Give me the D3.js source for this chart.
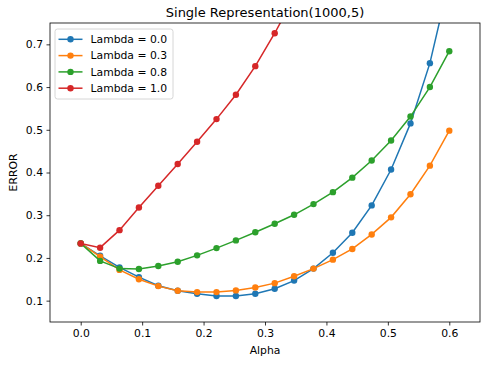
<!DOCTYPE html>
<html>
<head>
<meta charset="utf-8">
<script src="https://cdn.jsdelivr.net/npm/d3@7"></script>
<style>
  body { margin: 0; background: #fff; }
  svg { display: block; font-family: "DejaVu Sans", sans-serif; }
</style>
</head>
<body>
<div id="chart"></div>
<script>
// data
const alphas = d3.range(20).map(i => i * 0.6 / 19);
const lambdas = ["Lambda = 0.0", "Lambda = 0.3", "Lambda = 0.8", "Lambda = 1.0"];
const err00 = [0.234, 0.205, 0.178, 0.155, 0.135, 0.123, 0.116, 0.111, 0.111, 0.116,
               0.128, 0.147, 0.175, 0.212, 0.259, 0.323, 0.407, 0.515, 0.656, 0.85];
const err03 = [0.234, 0.203, 0.172, 0.150, 0.134, 0.123, 0.120, 0.120, 0.124, 0.131,
               0.141, 0.157, 0.175, 0.196, 0.221, 0.255, 0.295, 0.349, 0.416, 0.498];
const err08 = [0.234, 0.193, 0.175, 0.174, 0.181, 0.191, 0.206, 0.223, 0.241, 0.260,
               0.280, 0.301, 0.326, 0.354, 0.388, 0.428, 0.475, 0.531, 0.600, 0.684];
const err10 = [0.234, 0.224, 0.265, 0.318, 0.369, 0.420, 0.472, 0.525, 0.582, 0.649,
               0.726, 0.81];
const xTicks = [0.0, 0.1, 0.2, 0.3, 0.4, 0.5, 0.6];
const yTicks = [0.1, 0.2, 0.3, 0.4, 0.5, 0.6, 0.7];
const colors = ["#1f77b4", "#ff7f0e", "#2ca02c", "#d62728"];

const series = [err00, err03, err08, err10].map((vals, i) => ({
    name: lambdas[i],
    color: colors[i],
    points: vals.map((v, j) => ({ a: alphas[j], v: v }))
}));

const W = 492, H = 365;
const margin = { top: 23, right: 12, bottom: 43, left: 50 };
const width = W - margin.left - margin.right;
const height = H - margin.top - margin.bottom;
const fs = 10.8;

const svg = d3.select("#chart").append("svg")
    .attr("width", W)
    .attr("height", H);

const g = svg.append("g")
    .attr("transform", `translate(${margin.left},${margin.top})`);

const x = d3.scaleLinear().domain([-0.05, 0.65]).range([0, width]);
const y = d3.scaleLinear().domain([0.05, 0.75]).range([height, 0]);

svg.append("defs").append("clipPath").attr("id", "clip")
    .append("rect").attr("width", width).attr("height", height);

// axes
const xAxis = g.append("g")
    .attr("transform", `translate(0,${height})`)
    .call(d3.axisBottom(x).tickValues(xTicks).tickFormat(d3.format(".1f")).tickSize(3.5).tickPadding(3.5));
const yAxis = g.append("g")
    .call(d3.axisLeft(y).tickValues(yTicks).tickFormat(d3.format(".1f")).tickSize(3.5).tickPadding(3.5));

[xAxis, yAxis].forEach(ax => {
    ax.select(".domain").remove();
    ax.selectAll(".tick line").attr("stroke", "#000").attr("stroke-width", 0.8);
    ax.selectAll(".tick text").attr("font-size", fs).attr("fill", "#000")
        .attr("font-family", "DejaVu Sans, sans-serif");
});

// lines and markers
const line = d3.line().x(d => x(d.a)).y(d => y(d.v));
const plot = g.append("g").attr("clip-path", "url(#clip)");

series.forEach(s => {
    plot.append("path")
        .datum(s.points)
        .attr("d", line)
        .attr("fill", "none")
        .attr("stroke", s.color)
        .attr("stroke-width", 1.5);
    plot.selectAll(null)
        .data(s.points)
        .enter().append("circle")
        .attr("cx", d => x(d.a))
        .attr("cy", d => y(d.v))
        .attr("r", 3.2)
        .attr("fill", s.color);
});

// frame
g.append("rect")
    .attr("width", width)
    .attr("height", height)
    .attr("fill", "none")
    .attr("stroke", "#000")
    .attr("stroke-width", 0.8);

// title and labels
svg.append("text")
    .attr("x", margin.left + width / 2)
    .attr("y", 17)
    .attr("text-anchor", "middle")
    .attr("font-size", 13)
    .text("Single Representation(1000,5)");

svg.append("text")
    .attr("x", margin.left + width / 2)
    .attr("y", 354)
    .attr("text-anchor", "middle")
    .attr("font-size", fs)
    .text("Alpha");

svg.append("text")
    .attr("transform", `translate(17,${margin.top + height / 2}) rotate(-90)`)
    .attr("text-anchor", "middle")
    .attr("font-size", fs)
    .text("ERROR");

// legend
const legend = g.append("g").attr("transform", "translate(5,6)");
legend.append("rect")
    .attr("width", 118)
    .attr("height", 70)
    .attr("rx", 2.5)
    .attr("fill", "#fff")
    .attr("fill-opacity", 0.8)
    .attr("stroke", "#ccc")
    .attr("stroke-width", 0.8);

const item = legend.selectAll(".item")
    .data(series)
    .enter().append("g")
    .attr("class", "item")
    .attr("transform", (d, i) => `translate(0,${10.3 + i * 16.3})`);

item.append("line")
    .attr("x1", 3.5).attr("x2", 27.5)
    .attr("stroke", d => d.color)
    .attr("stroke-width", 1.5);
item.append("circle")
    .attr("cx", 15.5)
    .attr("r", 3.2)
    .attr("fill", d => d.color);
item.append("text")
    .attr("x", 35.5)
    .attr("dy", "0.35em")
    .attr("font-size", fs)
    .text(d => d.name);
</script>
</body>
</html>
